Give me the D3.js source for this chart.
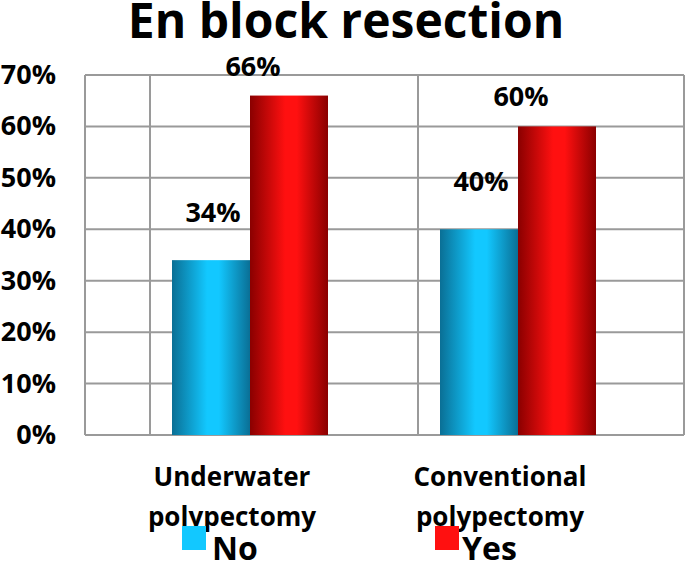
<!DOCTYPE html>
<html><head><meta charset="utf-8">
<script src="https://cdn.jsdelivr.net/npm/d3@7"></script>
<style>body{margin:0;background:#fff}text{font-family:"Liberation Sans Narrow","Open Sans","DejaVu Sans",sans-serif;font-weight:bold}</style>
</head><body><svg id="c" width="685" height="577"></svg>
<script>
const categories=[["Underwater","polypectomy"],["Conventional","polypectomy"]];
const series=["No","Yes"];
const noValues=[34,40];
const yesValues=[66,60];
const yTicks=[0,10,20,30,40,50,60,70];
const colors={No:["#0a6f95","#12c8ff"],Yes:["#8a0000","#ff1010"]};

const svg=d3.select("#c");
const y=d3.scaleLinear().domain([0,70]).range([435,75]);
const x=d3.scaleBand().domain([0,1]).range([116,652]);
const xs=d3.scaleBand().domain(series).range([0,156]).paddingInner(0);
const left=85,right=684;
const defs=svg.append("defs");
series.forEach(s=>{
  const g=defs.append("linearGradient").attr("id","g"+s);
  [[0,0],[0.45,1],[0.6,1],[1,0]].forEach(([o,i])=>g.append("stop").attr("offset",o).attr("stop-color",colors[s][i]));
});
svg.append("g").selectAll("line").data(yTicks).join("line")
 .attr("x1",left).attr("x2",right).attr("y1",d=>y(d)).attr("y2",d=>y(d)).attr("stroke","#9a9a9a").attr("stroke-width",2);
const vx=[left,x(0)+34,x(1)+34,right];
svg.append("g").selectAll("line").data(vx).join("line")
 .attr("x1",d=>d).attr("x2",d=>d).attr("y1",y(70)).attr("y2",y(0)).attr("stroke","#9a9a9a").attr("stroke-width",2);
svg.append("g").selectAll("text").data(yTicks).join("text")
 .attr("x",56).attr("y",d=>y(d)+9).attr("text-anchor","end").attr("font-size",27).text(d=>d+"%");
const data=[];
categories.forEach((c,i)=>{data.push({i,s:"No",v:noValues[i]});data.push({i,s:"Yes",v:yesValues[i]});});
const off=172-x(0);
svg.append("g").selectAll("text").data(data).join("text")
 .attr("x",d=>x(d.i)+off+xs(d.s)+xs.bandwidth()/2-(d.s==="No"?-2:36))
 .attr("y",d=>y(d.v)-(d.s==="No"?38:20)).attr("text-anchor","middle").attr("font-size",27).text(d=>d.v+"%");
svg.append("g").selectAll("rect").data(data).join("rect")
 .attr("x",d=>x(d.i)+off+xs(d.s)).attr("width",xs.bandwidth()).attr("y",d=>y(d.v)).attr("height",d=>y(0)-y(d.v))
 .attr("fill",d=>"url(#g"+d.s+")");
categories.forEach((c,i)=>{
  const t=svg.append("text").attr("text-anchor","middle").attr("font-size",26);
  c.forEach((l,k)=>t.append("tspan").attr("x",x(i)+off+60).attr("y",486+k*40).text(l));
});
const lg=[["No",182,212],["Yes",435,462]];
lg.forEach(([s,bx,tx])=>{
  svg.append("rect").attr("x",bx).attr("y",526).attr("width",24).attr("height",24).attr("fill",colors[s][1]);
  svg.append("text").attr("x",tx).attr("y",560).attr("font-size",32).text(s);
});
svg.append("text").attr("x",346).attr("y",38).attr("text-anchor","middle").attr("font-size",48).text("En block resection");
</script></body></html>
